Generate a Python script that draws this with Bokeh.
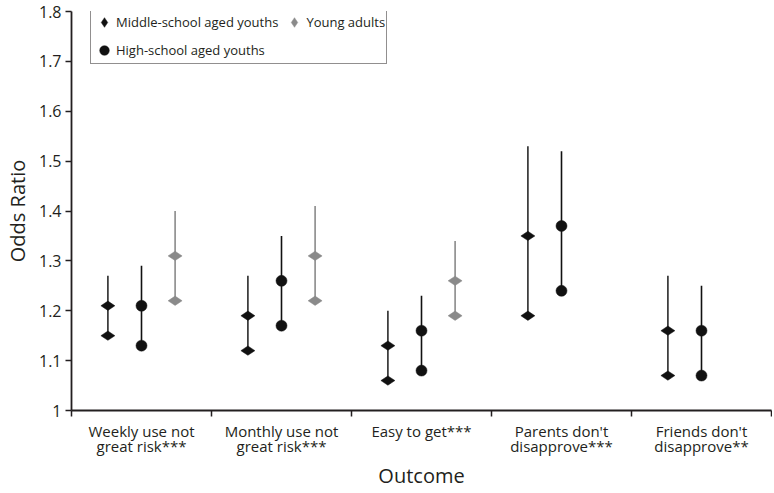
from bokeh.plotting import figure
from bokeh.models import (ColumnDataSource, Range1d, FixedTicker, Legend, LegendItem)
from bokeh.embed import file_html
from bokeh.resources import INLINE
import math

# ---- data ----
categories = ["Weekly use not\ngreat risk***", "Monthly use not\ngreat risk***",
              "Easy to get***", "Parents don't\ndisapprove***", "Friends don't\ndisapprove**"]

ms_est = [1.21, 1.19, 1.13, 1.35, 1.16]
ms_low = [1.15, 1.12, 1.06, 1.19, 1.07]
ms_up = [1.27, 1.27, 1.20, 1.53, 1.27]

hs_est = [1.21, 1.26, 1.16, 1.37, 1.16]
hs_low = [1.13, 1.17, 1.08, 1.24, 1.07]
hs_up = [1.29, 1.35, 1.23, 1.52, 1.25]

ya_est = [1.31, 1.31, 1.26]
ya_low = [1.22, 1.22, 1.19]
ya_up = [1.40, 1.41, 1.34]

series_names = ["Middle-school aged youths", "High-school aged youths", "Young adults"]
y_ticks = [1.0, 1.1, 1.2, 1.3, 1.4, 1.5, 1.6, 1.7, 1.8]
y_tick_labels = ["1", "1.1", "1.2", "1.3", "1.4", "1.5", "1.6", "1.7", "1.8"]

# ---- styling ----
FONT = "Open Sans"
TXT = "#231f20"
BLACK = "#111111"
GREY = "#8a8a8a"
offsets = [0.26, 0.5, 0.74]

W, H = 772, 491
BL, BR, BT, BB = 66, 1, 11, 80

p = figure(width=W, height=H, output_backend="svg", toolbar_location=None,
           x_range=Range1d(0, 5), y_range=Range1d(1.0, 1.8),
           min_border_left=BL, min_border_right=BR, min_border_top=BT, min_border_bottom=BB)
p.outline_line_color = None
p.xgrid.grid_line_color = None
p.ygrid.grid_line_color = None
p.background_fill_color = "white"
p.border_fill_color = "white"

def add_series(est, low, up, off, marker, size, color, line_color):
    n = len(est)
    xs = [i + off for i in range(n)]
    seg = ColumnDataSource(dict(x=xs, low=low, up=up))
    p.segment(x0="x", y0="low", x1="x", y1="up", source=seg,
              line_color=line_color, line_width=1.6)
    pts = ColumnDataSource(dict(x=xs + xs, y=list(est) + list(low)))
    angle = math.pi / 2 if marker == "diamond" else 0
    r = p.scatter(x="x", y="y", source=pts, marker=marker, size=size, angle=angle,
                  fill_color=color, line_color=color, line_width=0.5)
    return r

r_ms = add_series(ms_est, ms_low, ms_up, offsets[0], "diamond", 14, BLACK, "#2a2a2a")
r_hs = add_series(hs_est, hs_low, hs_up, offsets[1], "circle", 11, BLACK, BLACK)
r_ya = add_series(ya_est, ya_low, ya_up, offsets[2], "diamond", 14, GREY, GREY)

# ---- axes ----
xa = p.xaxis[0]
xa.ticker = FixedTicker(ticks=[i + 0.5 for i in range(len(categories))],
                        minor_ticks=list(range(len(categories) + 1)))
xa.major_label_overrides = {i + 0.5: c for i, c in enumerate(categories)}
xa.major_tick_out = 0
xa.major_tick_in = 0
xa.minor_tick_out = 6
xa.minor_tick_in = 0
xa.minor_tick_line_color = TXT
xa.minor_tick_line_width = 1.5
xa.axis_line_color = TXT
xa.axis_line_width = 1.8
xa.major_label_text_font = FONT
xa.major_label_text_font_size = "15px"
xa.major_label_text_color = TXT
xa.major_label_text_line_height = 0.75
xa.major_label_standoff = 4
xa.axis_label = "Outcome"
xa.axis_label_text_font = FONT
xa.axis_label_text_font_size = "20px"
xa.axis_label_text_font_style = "normal"
xa.axis_label_text_color = TXT
xa.axis_label_standoff = 3

ya = p.yaxis[0]
ya.ticker = FixedTicker(ticks=y_ticks, minor_ticks=[])
ya.major_label_overrides = {t: l for t, l in zip(y_ticks, y_tick_labels)}
ya.major_tick_out = 6
ya.major_tick_in = 0
ya.major_tick_line_color = TXT
ya.major_tick_line_width = 1.5
ya.minor_tick_line_color = None
ya.axis_line_color = TXT
ya.axis_line_width = 1.8
ya.major_label_text_font = FONT
ya.major_label_text_font_size = "16px"
ya.major_label_text_color = TXT
ya.major_label_standoff = 4
ya.axis_label = "Odds Ratio"
ya.axis_label_text_font = FONT
ya.axis_label_text_font_size = "20px"
ya.axis_label_text_font_style = "normal"
ya.axis_label_text_color = TXT
ya.axis_label_standoff = 5

# ---- legend ----
frame_h = H - BT - BB
legend = Legend(items=[LegendItem(label=series_names[0], renderers=[r_ms]),
                       LegendItem(label=series_names[1], renderers=[r_hs]),
                       LegendItem(label=series_names[2], renderers=[r_ya])],
                nrows=2, location=(19, frame_h - 54))
legend.padding = 1
legend.spacing = 4
legend.margin = 0
legend.label_height = 24
legend.glyph_height = 24
legend.glyph_width = 24
legend.label_standoff = 0
legend.label_text_font = FONT
legend.label_text_font_size = "13px"
legend.label_text_color = TXT
legend.border_line_color = TXT
legend.border_line_width = 1.5
legend.background_fill_alpha = 1
p.add_layout(legend)

open("out.html", "w").write(file_html(p, INLINE))
